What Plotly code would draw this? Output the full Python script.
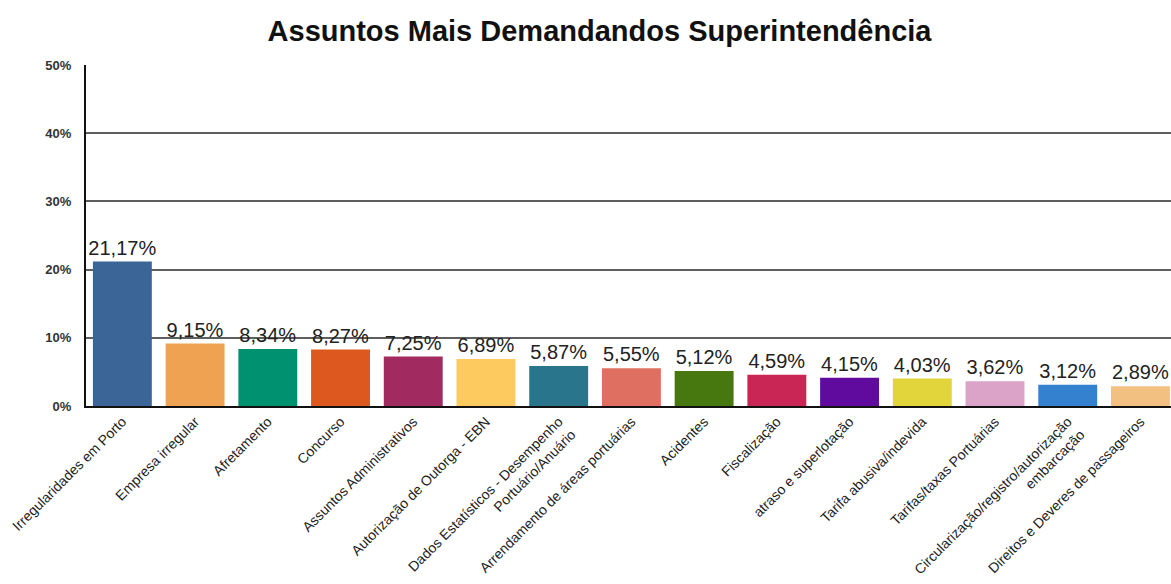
import plotly.graph_objects as go

categories = [
    "Irregularidades em Porto",
    "Empresa irregular",
    "Afretamento",
    "Concurso",
    "Assuntos Administrativos",
    "Autorização de Outorga - EBN",
    "Dados Estatísticos - Desempenho<br>Portuário/Anuário",
    "Arrendamento de áreas portuárias",
    "Acidentes",
    "Fiscalização",
    "atraso e superlotação",
    "Tarifa abusiva/indevida",
    "Tarifas/taxas Portuárias",
    "Circularização/registro/autorização<br>embarcação",
    "Direitos e Deveres de passageiros",
]
values = [21.17, 9.15, 8.34, 8.27, 7.25, 6.89, 5.87, 5.55, 5.12, 4.59, 4.15, 4.03, 3.62, 3.12, 2.89]
colors = ["#3a6596", "#eea252", "#009170", "#dd581f", "#a12b60", "#fdca5f", "#29758b",
          "#df6f60", "#46780f", "#c92655", "#600a9e", "#e2d43b", "#dca3c9", "#3481cf", "#f2c182"]
y_tick_vals = [0, 10, 20, 30, 40, 50]
y_tick_text = ["0%", "10%", "20%", "30%", "40%", "50%"]

labels = [f"{v:.2f}".replace(".", ",") + "%" for v in values]

fig = go.Figure(go.Bar(
    x=list(range(len(categories))),
    y=values,
    marker=dict(color=colors, line=dict(width=0)),
    text=labels,
    textposition="outside",
    constraintext="none",
    textfont=dict(size=20, color="#222222", family="Liberation Sans, Arial, sans-serif"),
    cliponaxis=False,
    hoverinfo="skip",
))

fig.update_layout(
    width=1171, height=584,
    margin=dict(l=86, r=0, t=65, b=178),
    paper_bgcolor="white", plot_bgcolor="white",
    bargap=0.19,
    showlegend=False,
    font=dict(family="Liberation Sans, Arial, sans-serif", color="#222222"),
    title=dict(
        text="<b>Assuntos Mais Demandandos Superintendência</b>",
        x=0.512, xanchor="center", y=0.948, yanchor="middle",
        font=dict(size=29, color="#111111", family="Liberation Sans, Arial, sans-serif"),
    ),
    xaxis=dict(
        tickmode="array",
        tickvals=list(range(len(categories))),
        ticktext=categories,
        tickangle=-45,
        range=[-0.5, 14.42],
        automargin=False,
        showline=True, linecolor="#111111", linewidth=2,
        showgrid=False, ticks="",
        tickfont=dict(size=14, color="#222222"),
    ),
    yaxis=dict(
        range=[0, 50],
        tickmode="array",
        tickvals=y_tick_vals,
        ticktext=["<b>" + t + "</b>" for t in y_tick_text],
        automargin=False,
        showline=True, linecolor="#111111", linewidth=2,
        showgrid=True, gridcolor="#5e5e5e", gridwidth=1.5,
        zeroline=False, ticks="",
        ticklabelstandoff=10,
        tickfont=dict(size=13, color="#333333"),
    ),
)

fig.write_html("out.html")
